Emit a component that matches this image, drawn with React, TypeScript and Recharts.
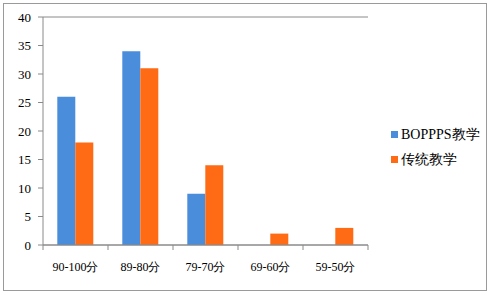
import React from 'react';
import { BarChart, Bar, XAxis, YAxis, CartesianGrid } from 'recharts';

const CATEGORIES = ['90-100分', '89-80分', '79-70分', '69-60分', '59-50分'];
const BOPPPS = [26, 34, 9, 0, 0];
const TRADITIONAL = [18, 31, 14, 2, 3];
const Y_TICKS = [0, 5, 10, 15, 20, 25, 30, 35, 40];

const SERIES = [
  { key: 'boppps', name: 'BOPPPS教学', color: '#4a8ddb' },
  { key: 'traditional', name: '传统教学', color: '#ff6a14' },
];

const data = CATEGORIES.map((name, i) => ({
  name,
  boppps: BOPPPS[i],
  traditional: TRADITIONAL[i],
}));

const FONT = 'Liberation Serif, Times New Roman, serif';
const GRID = '#8a8a8a';
const PLOT_LEFT = 43;
const PLOT_RIGHT = 368;
const HALF_BAND = (PLOT_RIGHT - PLOT_LEFT) / CATEGORIES.length / 2;

const XTick = (props: any) => {
  const { x, y, payload, index } = props;
  return (
    <g>
      {index === 0 && <line x1={x - HALF_BAND} x2={x - HALF_BAND} y1={y - 8} y2={y - 3} stroke={GRID} />}
      <line x1={x + HALF_BAND} x2={x + HALF_BAND} y1={y - 8} y2={y - 3} stroke={GRID} />
      <text x={x} y={y + 18} textAnchor="middle" fontSize={12} fill="#000" style={{ fontFamily: FONT }}>
        {payload.value}
      </text>
    </g>
  );
};

export default function App() {
  return (
    <div style={{ position: 'absolute', left: 0, top: 0, width: 491, height: 295, background: '#fff', fontFamily: FONT }}>
      <div style={{ position: 'absolute', left: 3, top: 3, width: 482, height: 286, border: '1px solid #9a9a9a' }} />
      <BarChart
        width={491}
        height={295}
        data={data}
        margin={{ top: 17, right: 491 - PLOT_RIGHT, left: 0, bottom: 20 }}
        barCategoryGap="22%"
        barGap={0}
        style={{ fontFamily: FONT }}
      >
        <CartesianGrid vertical={false} stroke={GRID} />
        <XAxis
          dataKey="name"
          height={30}
          axisLine={{ stroke: GRID }}
          tickLine={false}
          tick={<XTick />}
          interval={0}
        />
        <YAxis
          yAxisId="left"
          width={PLOT_LEFT}
          domain={[0, 40]}
          ticks={Y_TICKS}
          axisLine={{ stroke: GRID }}
          tickLine={{ stroke: GRID }}
          tickSize={5}
          tickMargin={7}
          tick={{ fontSize: 13, fill: '#000', style: { fontFamily: FONT } }}
          interval={0}
        />
        <YAxis
          yAxisId="right"
          orientation="right"
          width={0}
          domain={[0, 40]}
          ticks={Y_TICKS}
          tick={false}
          tickLine={false}
          axisLine={{ stroke: '#000', strokeWidth: 1.5 }}
        />
        {SERIES.map((s) => (
          <Bar key={s.key} yAxisId="left" dataKey={s.key} name={s.name} fill={s.color} isAnimationActive={false} />
        ))}
      </BarChart>
      <div style={{ position: 'absolute', left: 391, top: 122, fontSize: 14, color: '#000' }}>
        {SERIES.map((s) => (
          <div key={s.key} style={{ display: 'flex', alignItems: 'center', height: 25 }}>
            <span style={{ width: 7, height: 7, background: s.color, marginRight: 3, display: 'inline-block' }} />
            <span>{s.name}</span>
          </div>
        ))}
      </div>
    </div>
  );
}
